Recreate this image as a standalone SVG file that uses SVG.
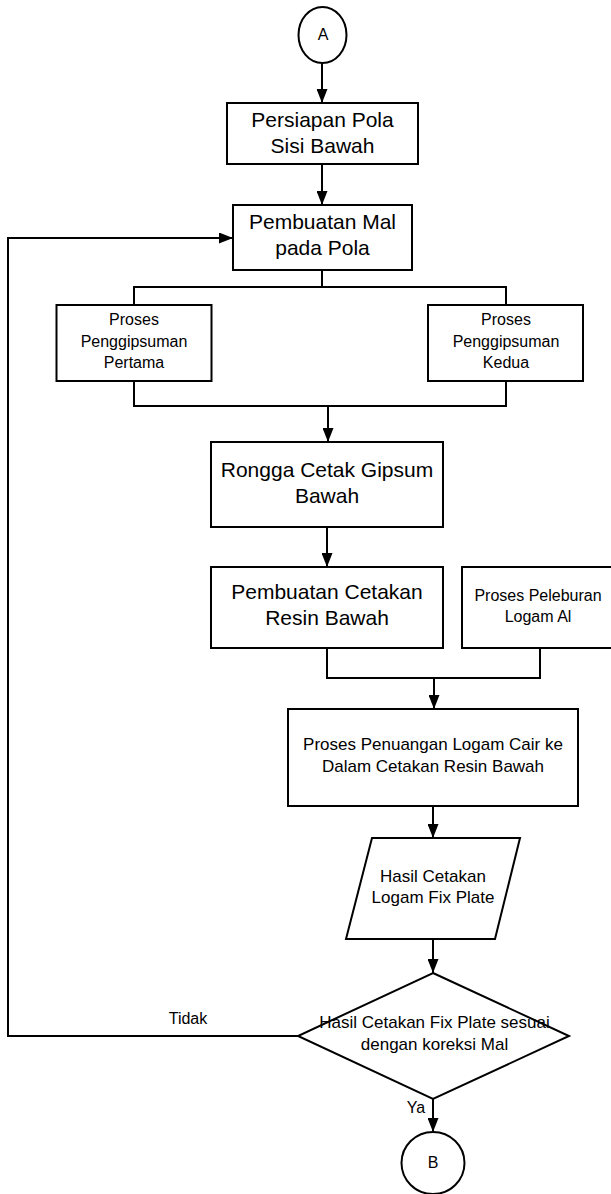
<svg xmlns="http://www.w3.org/2000/svg" width="611" height="1194" viewBox="0 0 611 1194">
<style>
.n{fill:#fff;stroke:#000;stroke-width:2}
.c{fill:none;stroke:#000;stroke-width:2}
text{font-family:"Liberation Sans",Arial,sans-serif;fill:#000;text-anchor:middle}
.big{font-size:21px}
.med{font-size:17px}
.sm{font-size:16px}
</style>
<defs>
<marker id="ar" markerUnits="userSpaceOnUse" markerWidth="14" markerHeight="11" refX="14" refY="5.5" orient="auto">
<path d="M0,0 L14,5.5 L0,11 z" fill="#000"/>
</marker>
</defs>
<rect width="611" height="1194" fill="#fff"/>
<g id="connectors">
<path class="c" d="M322,63 V103" marker-end="url(#ar)"/>
<path class="c" d="M322,164 V205" marker-end="url(#ar)"/>
<path class="c" d="M322,270 V287 M134,305 V287 H506 V305"/>
<path class="c" d="M134,381 V406 H506 V381"/>
<path class="c" d="M328,406 V442" marker-end="url(#ar)"/>
<path class="c" d="M327,527 V567" marker-end="url(#ar)"/>
<path class="c" d="M327,648 V678 H540 V648"/>
<path class="c" d="M434,678 V709" marker-end="url(#ar)"/>
<path class="c" d="M433,806 V838" marker-end="url(#ar)"/>
<path class="c" d="M433,939 V973" marker-end="url(#ar)"/>
<path class="c" d="M433,1098 V1132" marker-end="url(#ar)"/>
<path class="c" d="M298,1036 H8 V238 H233" marker-end="url(#ar)"/>
<text class="sm" x="188" y="1024">Tidak</text>
<text class="sm" x="416" y="1113">Ya</text>
</g>
<g id="nodeA">
<ellipse class="n" cx="322.5" cy="35" rx="24" ry="28"/>
<text class="sm" x="323" y="40">A</text>
</g>
<g id="persiapan">
<rect class="n" x="227" y="103" width="191" height="61"/>
<text class="big" x="322.5" y="127">Persiapan Pola</text>
<text class="big" x="322.5" y="153">Sisi Bawah</text>
</g>
<g id="pembuatanMal">
<rect class="n" x="233" y="205" width="179" height="65"/>
<text class="big" x="322.5" y="229">Pembuatan Mal</text>
<text class="big" x="322.5" y="255">pada Pola</text>
</g>
<g id="gipsPertama">
<rect class="n" x="56.5" y="305" width="155" height="76"/>
<text class="sm" x="134" y="325">Proses</text>
<text class="sm" x="134" y="347">Penggipsuman</text>
<text class="sm" x="134" y="368">Pertama</text>
</g>
<g id="gipsKedua">
<rect class="n" x="428" y="305" width="155" height="76"/>
<text class="sm" x="506" y="325">Proses</text>
<text class="sm" x="506" y="347">Penggipsuman</text>
<text class="sm" x="506" y="368">Kedua</text>
</g>
<g id="rongga">
<rect class="n" x="211" y="442" width="232" height="85"/>
<text class="big" x="327" y="477">Rongga Cetak Gipsum</text>
<text class="big" x="327" y="503">Bawah</text>
</g>
<g id="cetakanResin">
<rect class="n" x="211" y="567" width="232" height="81"/>
<text class="big" x="327" y="599">Pembuatan Cetakan</text>
<text class="big" x="327" y="625">Resin Bawah</text>
</g>
<g id="peleburan">
<rect class="n" x="462" y="567" width="150" height="81"/>
<text class="sm" x="538" y="601">Proses Peleburan</text>
<text class="sm" x="538" y="622">Logam Al</text>
</g>
<g id="penuangan">
<rect class="n" x="288" y="709" width="290" height="97"/>
<text class="med" x="433" y="750">Proses Penuangan Logam Cair ke</text>
<text class="med" x="433" y="772">Dalam Cetakan Resin Bawah</text>
</g>
<g id="hasil">
<polygon class="n" points="372,838 520,838 495,939 346,939"/>
<text class="med" x="433" y="882">Hasil Cetakan</text>
<text class="med" x="433" y="903">Logam Fix Plate</text>
</g>
<g id="keputusan">
<polygon class="n" points="433,973 569,1036 433,1099 298,1036"/>
<text class="med" x="434.5" y="1028">Hasil Cetakan Fix Plate sesuai</text>
<text class="med" x="434.5" y="1050">dengan koreksi Mal</text>
</g>
<g id="nodeB">
<ellipse class="n" cx="433" cy="1163" rx="31.5" ry="31"/>
<text class="sm" x="433" y="1168">B</text>
</g>
</svg>
